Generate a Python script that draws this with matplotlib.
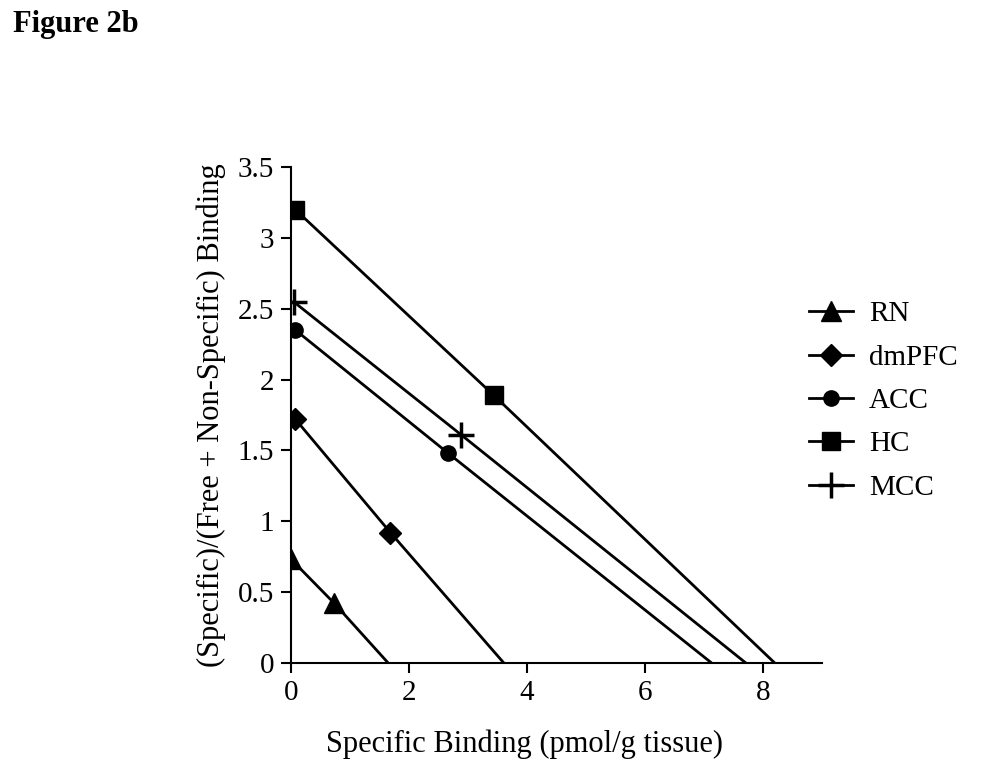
import numpy as np
import matplotlib.pyplot as plt

plt.rcParams['font.family'] = ['Liberation Serif', 'DejaVu Serif']

regions = ["RN", "dmPFC", "ACC", "HC", "MCC"]
rn_x = [0.01, 0.74, 1.65]
rn_y = [0.73, 0.42, 0.0]
dmpfc_x = [0.08, 1.69, 3.61]
dmpfc_y = [1.72, 0.92, 0.0]
acc_x = [0.08, 2.67, 7.13]
acc_y = [2.35, 1.48, 0.0]
hc_x = [0.08, 3.44, 8.2]
hc_y = [3.20, 1.89, 0.0]
mcc_x = [0.05, 2.89, 7.71]
mcc_y = [2.55, 1.61, 0.0]

xs = [rn_x, dmpfc_x, acc_x, hc_x, mcc_x]
ys = [rn_y, dmpfc_y, acc_y, hc_y, mcc_y]
markers = ["^", "D", "o", "s", "+"]
sizes = [14, 11, 11, 13.5, 19]

fig = plt.figure(figsize=(9.87, 7.81), dpi=100)
ax = fig.add_axes([0.2945, 0.1513, 0.5381, 0.6346])

for name, x, y, m, s in zip(regions, xs, ys, markers, sizes):
    ax.plot(x, y, color="black", lw=2, marker=m, markersize=s,
            markeredgewidth=2.5 if m == "+" else 1,
            markevery=[0, 1], label=name)

ax.set_xlim(0, 9)
ax.set_ylim(0, 3.5)
ax.set_xticks([0, 2, 4, 6, 8])
ax.set_yticks(np.arange(0, 3.51, 0.5))
ax.set_yticklabels(["0", "0.5", "1", "1.5", "2", "2.5", "3", "3.5"])
ax.spines["top"].set_visible(False)
ax.spines["right"].set_visible(False)
ax.spines["left"].set_linewidth(1.5)
ax.spines["bottom"].set_linewidth(1.5)
ax.tick_params(direction="out", length=7, width=1.5, labelsize=21, pad=5)

ax.set_xlabel("Specific Binding (pmol/g tissue)", fontsize=22)
ax.xaxis.set_label_coords(0.44, -0.135)
ax.set_ylabel("(Specific)/(Free + Non-Specific) Binding", fontsize=22, labelpad=8)

ax.legend(loc="upper left", bbox_to_anchor=(809 / 987, 1 - 301 / 781),
          bbox_transform=fig.transFigure, frameon=False, borderpad=0,
          borderaxespad=0, fontsize=21, handlelength=1.5, labelspacing=0.58,
          handletextpad=0.55)

fig.text(0.013, 0.968, "Figure 2b", fontsize=22, fontweight="bold", va="center")

fig.savefig("out.png", dpi=100)
